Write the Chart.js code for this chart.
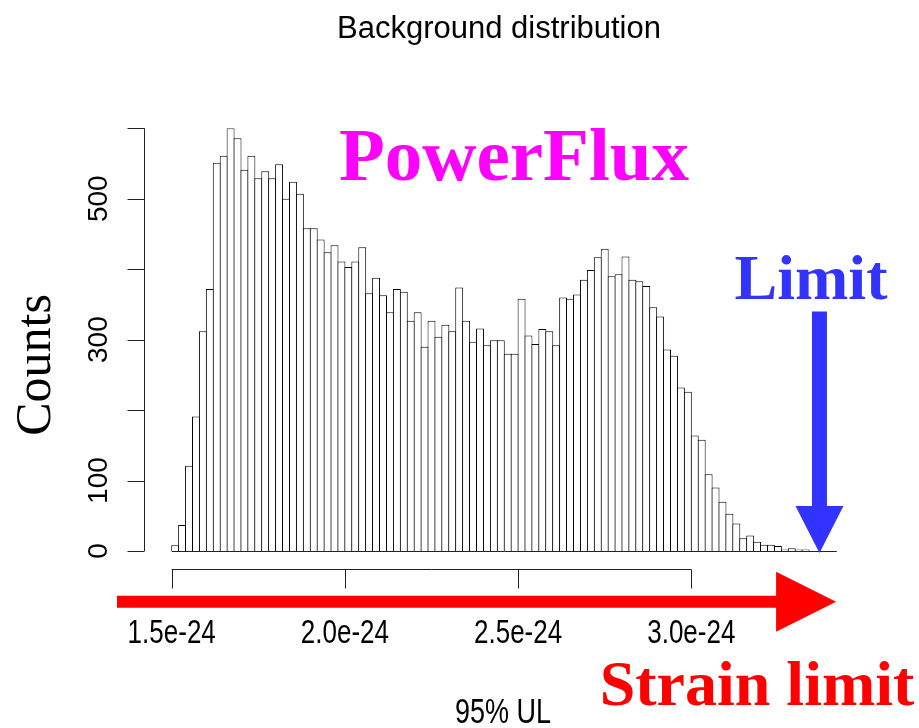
<!DOCTYPE html>
<html>
<head>
<meta charset="utf-8">
<title>Background distribution</title>
<script src="https://cdn.jsdelivr.net/npm/chart.js@4.4.1/dist/chart.umd.min.js"></script>
<style>
  html, body { margin: 0; padding: 0; background: #fff; }
  canvas { display: block; }
</style>
</head>
<body>
<canvas id="hist" width="919" height="728"></canvas>
<script>
// 95% upper limits, in units of 1e-24, binned 0.02e-24 wide from 1.5e-24
const binStart = 1.5;
const binWidth = 0.02;
const counts = [
  8, 37, 121, 191, 312, 372, 551, 561, 600, 586,
  541, 561, 529, 539, 529, 549, 500, 524, 507, 458,
  458, 442, 424, 434, 411, 403, 411, 431, 366, 388,
  363, 339, 372, 368, 327, 339, 290, 327, 304, 321,
  312, 374, 327, 297, 316, 292, 299, 299, 280, 280,
  358, 306, 294, 315, 312, 292, 360, 358, 364, 385,
  399, 417, 429, 390, 393, 418, 385, 383, 376, 346,
  333, 286, 277, 232, 226, 164, 158, 109, 90, 70,
  53, 39, 18, 22, 13, 9, 9, 7, 2, 4,
  2, 2, 0, 0, 0, 0
];
const xTicks = [1.5, 2.0, 2.5, 3.0];
const xTickLabels = ['1.5e-24', '2.0e-24', '2.5e-24', '3.0e-24'];
const yTicks = [0, 100, 200, 300, 400, 500, 600];
const yTickLabels = ['0', '100', '', '300', '', '500', ''];

// the limit being compared against the background
const limitValue = 3.37;

const BLUE = 'rgb(51,51,255)';
const RED = '#ff0000';
const MAGENTA = '#ff00ff';
const INK = '#222';

function stretchedText(ctx, text, x, y, sy) {
  ctx.save();
  ctx.translate(x, y);
  ctx.scale(1, sy);
  ctx.fillText(text, 0, 0);
  ctx.restore();
}

function rotatedText(ctx, text, x, y) {
  ctx.save();
  ctx.translate(x, y);
  ctx.rotate(-Math.PI / 2);
  ctx.fillText(text, 0, 0);
  ctx.restore();
}

// R-like axes, arrows and labels drawn over the bars
const rStyle = {
  id: 'rStyle',
  afterDatasetsDraw(chart) {
    const { ctx, chartArea, scales: { x, y } } = chart;
    const y0 = y.getPixelForValue(0);

    ctx.save();
    ctx.strokeStyle = INK;
    ctx.lineWidth = 1;

    // bottom edge of all bins, including the empty ones
    ctx.beginPath();
    ctx.moveTo(x.getPixelForValue(binStart), y0 + 0.5);
    ctx.lineTo(x.getPixelForValue(binStart + binWidth * counts.length), y0 + 0.5);
    ctx.stroke();

    // y axis
    const ax = chartArea.left + 0.5;
    ctx.beginPath();
    ctx.moveTo(ax, y.getPixelForValue(yTicks[0]));
    ctx.lineTo(ax, y.getPixelForValue(yTicks[yTicks.length - 1]));
    yTicks.forEach(v => {
      const py = Math.round(y.getPixelForValue(v)) + 0.5;
      ctx.moveTo(ax, py);
      ctx.lineTo(ax - 17, py);
    });
    ctx.stroke();

    ctx.fillStyle = '#000';
    ctx.font = '28px "Liberation Sans", Arial, sans-serif';
    ctx.textAlign = 'center';
    ctx.textBaseline = 'alphabetic';
    yTicks.forEach((v, i) => {
      if (yTickLabels[i]) rotatedText(ctx, yTickLabels[i], 107, y.getPixelForValue(v));
    });

    // x axis, set below the bars
    const ay = y0 + 18.5;
    ctx.beginPath();
    ctx.moveTo(x.getPixelForValue(xTicks[0]), ay);
    ctx.lineTo(x.getPixelForValue(xTicks[xTicks.length - 1]), ay);
    xTicks.forEach(v => {
      const px = Math.round(x.getPixelForValue(v)) + 0.5;
      ctx.moveTo(px, ay);
      ctx.lineTo(px, ay + 19);
    });
    ctx.stroke();

    ctx.font = '26px "Liberation Sans", Arial, sans-serif';
    xTicks.forEach((v, i) => {
      stretchedText(ctx, xTickLabels[i], x.getPixelForValue(v), 643, 1.25);
    });

    // red strain arrow along the x axis
    const ry = y.getPixelForValue(-72);
    const rx0 = x.getPixelForValue(1.342);
    const rx1 = x.getPixelForValue(3.418);
    ctx.fillStyle = RED;
    ctx.beginPath();
    ctx.moveTo(rx0, ry - 6);
    ctx.lineTo(rx1 - 60, ry - 6);
    ctx.lineTo(rx1 - 60, ry - 30);
    ctx.lineTo(rx1, ry);
    ctx.lineTo(rx1 - 60, ry + 30);
    ctx.lineTo(rx1 - 60, ry + 6);
    ctx.lineTo(rx0, ry + 6);
    ctx.closePath();
    ctx.fill();

    // blue arrow down onto the limit
    const bx = x.getPixelForValue(limitValue);
    const btop = y.getPixelForValue(340);
    const btip = y0 + 2;
    ctx.fillStyle = BLUE;
    ctx.beginPath();
    ctx.moveTo(bx - 7.5, btop);
    ctx.lineTo(bx + 7.5, btop);
    ctx.lineTo(bx + 7.5, btip - 47);
    ctx.lineTo(bx + 24, btip - 47);
    ctx.lineTo(bx, btip);
    ctx.lineTo(bx - 24, btip - 47);
    ctx.lineTo(bx - 7.5, btip - 47);
    ctx.closePath();
    ctx.fill();

    // titles and annotations
    ctx.fillStyle = '#000';
    ctx.font = '31px "Liberation Sans", Arial, sans-serif';
    ctx.fillText('Background distribution', 499, 38);

    ctx.font = '27px "Liberation Sans", Arial, sans-serif';
    stretchedText(ctx, '95% UL', 503, 723, 1.27);

    ctx.font = '50px "Liberation Serif", "Times New Roman", serif';
    ctx.textAlign = 'center';
    rotatedText(ctx, 'Counts', 50, 365);

    ctx.font = 'bold 75px "Liberation Serif", "Times New Roman", serif';
    ctx.fillStyle = MAGENTA;
    ctx.fillText('PowerFlux', 514, 180);

    ctx.font = 'bold 64px "Liberation Serif", "Times New Roman", serif';
    ctx.fillStyle = BLUE;
    ctx.fillText('Limit', 811, 299);

    ctx.fillStyle = RED;
    ctx.fillText('Strain limit', 757, 705);

    ctx.restore();
  }
};

new Chart(document.getElementById('hist'), {
  type: 'bar',
  data: {
    datasets: [{
      data: counts.map((c, i) => ({ x: binStart + binWidth * (i + 0.5), y: c })),
      backgroundColor: '#fff',
      borderColor: '#000',
      borderWidth: { top: 1, left: 1, right: 1, bottom: 0 },
      borderSkipped: false,
      // widened by one pixel so neighbouring edges share a single line
      barPercentage: 1.144,
      categoryPercentage: 1,
      inflateAmount: 0
    }]
  },
  options: {
    responsive: false,
    animation: false,
    devicePixelRatio: 1,
    layout: { padding: { left: 144, right: 54.5, top: 128.3, bottom: 177 } },
    plugins: {
      legend: { display: false },
      tooltip: { enabled: false },
      title: { display: false }
    },
    scales: {
      x: {
        type: 'linear',
        min: 1.42,
        max: 3.5,
        offset: false,
        display: false,
        afterBuildTicks: s => { s.ticks = xTicks.map(v => ({ value: v })); }
      },
      y: {
        min: 0,
        max: 600,
        display: false,
        afterBuildTicks: s => { s.ticks = yTicks.map(v => ({ value: v })); }
      }
    }
  },
  plugins: [rStyle]
});
</script>
</body>
</html>
